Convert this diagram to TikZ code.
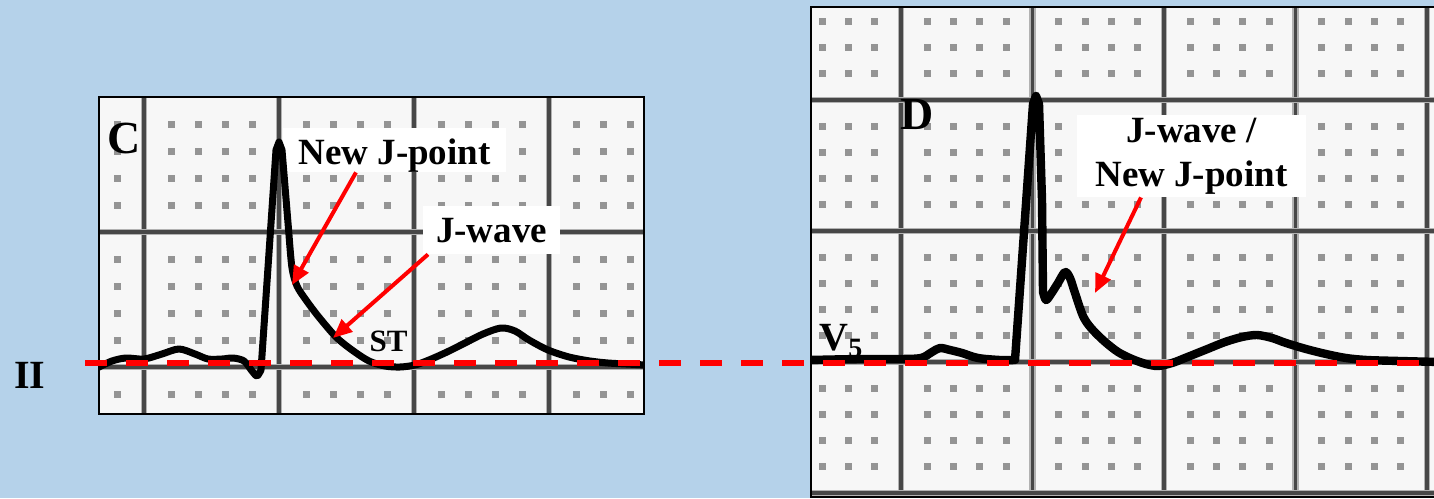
\documentclass[tikz,border=0pt]{standalone}
\usepackage{fontspec}
\setmainfont{Liberation Serif}
\usetikzlibrary{arrows.meta,calc}
\definecolor{bgblue}{RGB}{181,210,234}
\definecolor{ecgred}{RGB}{255,0,0}
\begin{document}
\begin{tikzpicture}[x=0.5pt,y=-0.5pt,
  ecg/.style={line width=3.5pt,line join=round,line cap=round,black},
  ecgthick/.style={ecg,line width=4.2pt},
  majorsoft/.style={line width=3.4pt,black!30},
  major/.style={line width=1.6pt,black!72},
  dotsq/.style={fill=black!42},
  frame/.style={draw=black,line width=1pt},
  lbl/.style={inner sep=0pt,anchor=base},
  wbox/.style={fill=white,inner sep=0pt,font=\bfseries\fontsize{18.5}{22}\selectfont},
  redarr/.style={draw=ecgred,line width=2pt,-{Triangle[length=9.5pt,width=8pt]}},
  refline/.style={draw=ecgred,line width=2.6pt,dash pattern=on 11pt off 9.5pt}
]
\fill[bgblue] (0,0) rectangle (1434,498);
\useasboundingbox (0,0) rectangle (1434,498);

% ---------- Panel C grid ----------
\begin{scope}
\clip (99,97) rectangle (644,414);
\fill[white!97!black] (99,97) rectangle (644,414);
\foreach \i in {4,...,23}{\foreach \j in {6,...,16}{
  \pgfmathtruncatemacro\ok{mod(\i,5)*mod(\j,5)}
  \ifnum\ok=0\relax\else
    \fill[dotsq] ({9+27*\i-3.5},{-38+27*\j-3.5}) rectangle ++(7,7);
  \fi}}
\foreach \x in {144,279,414,549} {\draw[majorsoft] (\x,97) -- (\x,414); \draw[major] (\x,97) -- (\x,414);}
\foreach \y in {232,367} {\draw[majorsoft] (99,\y) -- (644,\y); \draw[major] (99,\y) -- (644,\y);}
\end{scope}

% ---------- Panel D grid ----------
\begin{scope}
\clip (811,7) rectangle (1440,497);
\fill[white!97!black] (811,7) rectangle (1440,497);
\foreach \i in {-3,...,20}{\foreach \j in {-3,...,15}{
  \pgfmathtruncatemacro\ok{mod(\i,5)*mod(\j,5)}
  \ifnum\ok=0\relax\else
    \fill[dotsq] ({901+26.3*\i-3.5},{100+26.2*\j-3.5}) rectangle ++(7,7);
  \fi}}
\foreach \k in {0,...,4} {\draw[majorsoft] ({901+131.5*\k},7) -- ({901+131.5*\k},497); \draw[major] ({901+131.5*\k},7) -- ({901+131.5*\k},497);}
\foreach \k in {0,...,3} {\draw[majorsoft] (811,{100+131*\k}) -- (1440,{100+131*\k}); \draw[major] (811,{100+131*\k}) -- (1440,{100+131*\k});}
\end{scope}

% ---------- white label boxes ----------
\node[wbox,minimum width=111.5pt,minimum height=22pt,text height=16pt,text depth=2pt] (nj) at (394.5,150) {New J-point};
\node[wbox,minimum width=68.5pt,minimum height=24pt,text height=14pt,text depth=2pt] (jw) at (491.5,230) {J-wave};
\node[wbox,minimum width=114.5pt,minimum height=41pt,align=center] (jd) at (1191.5,156) {J-wave /\\New J-point};

% ---------- traces ----------
\begin{scope}
\clip (99,97) rectangle (644,414);
\draw[ecg] plot[smooth,tension=0.5] coordinates {(97,368) (112,361) (126,358) (144,359) (162,354) (179,349) (195,354) (208,359) (222,359) (233,358) (244,361) (252,371) (257,376) (261,370)}
  -- (276,150) -- (279,142) -- (282,150) -- (289,235)
  -- plot[smooth,tension=0.5] coordinates {(289,235) (292,268) (297,286) (306,300) (318,316) (336,337) (352,350) (369,361) (385,366) (400,367) (415,365) (429,360) (447,352) (465,343) (483,334) (501,328) (515,331) (529,340) (548,350) (569,357) (590,361) (608,363) (626,364) (646,365)};
\end{scope}
\draw[frame] (99,97) rectangle (644,414);
\begin{scope}
\clip (811,7) rectangle (1440,497);
\draw[ecgthick] plot[smooth,tension=0.5] coordinates {(809,360) (860,359) (900,359) (921,358) (932,352) (940,348) (950,350) (962,353) (978,358) (1000,360) (1015,360)}
  -- (1033,104) -- (1036,96) -- (1039,104) -- (1042,200) -- (1043,292)
  -- plot[smooth,tension=0.5] coordinates {(1043,292) (1046,300) (1051,294) (1058,283) (1065,272) (1070,278) (1075,293) (1083,316) (1091,328) (1104,341) (1118,352) (1132,359) (1146,364) (1158,366) (1172,363) (1185,358) (1205,350) (1225,342) (1242,337) (1257,335) (1272,338) (1286,343) (1306,349) (1326,354) (1346,358) (1367,360) (1400,361) (1440,362)};
\end{scope}
\draw[frame] (811,7) rectangle (1440,497);

% ---------- baseline ----------
\coordinate (bl0) at (85,363);
\coordinate (bl1) at (1440,363);
\draw[refline] (bl0) -- (bl1);

% ---------- labels ----------
\node[lbl,font=\bfseries\fontsize{20}{24}\selectfont] (II) at (30,388) {II};
\node[lbl,font=\bfseries\fontsize{23}{27}\selectfont] (C) at (124,153) {C};
\node[lbl,font=\bfseries\fontsize{23}{27}\selectfont] (D) at (917,129) {D};
\node[lbl,font=\bfseries\fontsize{15.5}{18}\selectfont] (ST) at (388.5,351) {ST};
\node[lbl,anchor=base west,font=\bfseries\fontsize{20}{24}\selectfont] (V5) at (819,350) {V\raisebox{-3.5pt}{\fontsize{14}{16}\selectfont 5}};

% ---------- arrows ----------
\coordinate (t1) at (292,285);
\coordinate (t2) at (333,338);
\coordinate (t3) at (1095,293);
\draw[redarr] ($(nj.south)+(-38.5,0)$) -- (t1);
\draw[redarr] ($(jw.south)+(-63.5,0)$) -- (t2);
\draw[redarr] ($(jd.south)+(-50.5,0)$) -- (t3);
\end{tikzpicture}
\end{document}
